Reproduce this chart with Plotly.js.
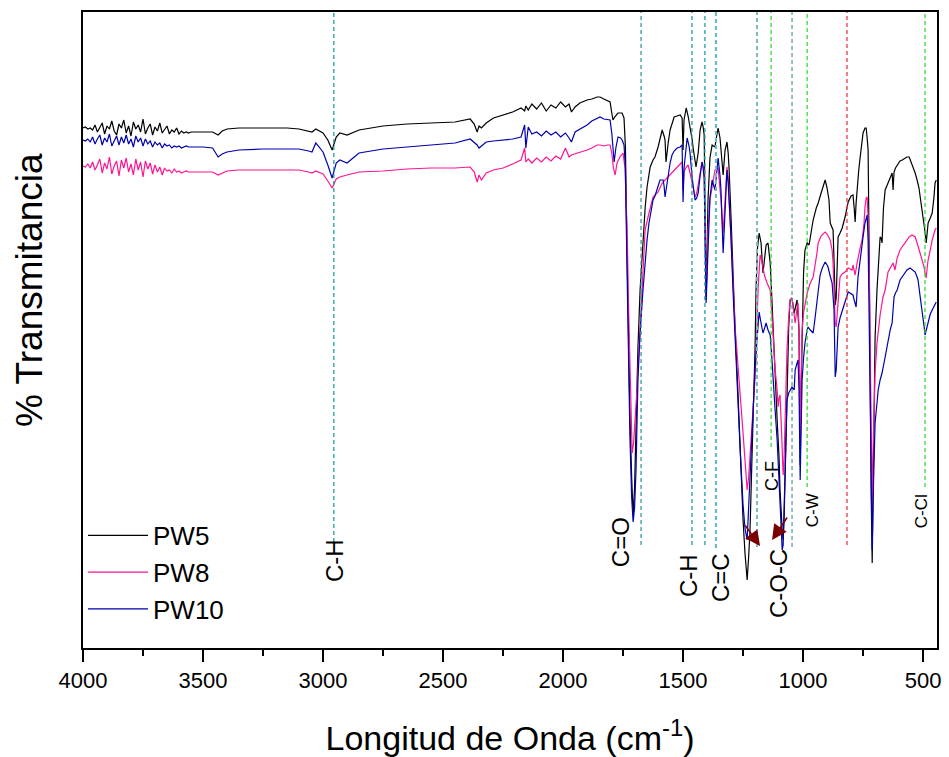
<!DOCTYPE html>
<html>
<head>
<meta charset="utf-8">
<script src="https://cdn.plot.ly/plotly-3.0.1.min.js"></script>
<style>html,body{margin:0;padding:0;background:#fff;}#chart{width:949px;height:757px;}</style>
</head>
<body>
<div id="chart"></div>
<script>
// ---------- DATA (wavenumber in cm-1, transmittance in arbitrary units) ----------
// shared wavenumber grid for the high-wavenumber part (4000 -> 1858 cm-1)
const wnHigh = [4000,3990,3980,3970,3960,3950,3940,3930,3920,3910,3900,3890,3880,3870,3860,3850,3840,3830,3820,3810,3800,3790,3780,3770,3760,3750,3740,3730,3720,3710,3700,3690,3680,3670,3660,3650,3640,3630,3620,3610,3600,3590,3580,3570,3560,
  3550,3500,3460,3437,3420,3400,3350,3250,3150,3100,3060,3046,3030,3000,2980,2962,2945,2930,2900,2850,2750,2650,2550,2450,2387,2370,2358,2350,2340,2320,2290,2250,2210,2175,2160,2155,2145,2130,2110,2090,2070,2050,2030,2010,1990,1975,1965,1950,1930,1900,1880,1858];

const pw5High = [520,521,519,520,518,523,516,521,525,514,522,519,527,517,513,524,520,528,515,522,512,526,519,523,516,529,514,520,524,513,521,517,525,515,519,522,514,518,516,520,514,517,515,516,515,
  516,516,516,513,517,519,520,520,520,519,517,516,519,515,508,498,511,515,513,518,522,524,525,526,529,524,516,522,520,525,530,533,536,540,537,542,538,544,539,545,537,543,540,546,541,544,536,541,545,548,549,551];
const pw8High = [482,481,484,480,486,478,483,489,475,485,479,491,474,482,487,472,488,480,490,476,484,473,489,478,486,471,487,479,485,474,483,476,481,473,480,477,478,475,479,476,477,475,476,477,476,
  476,476,476,473,475,477,478,478,478,478,476,475,477,474,467,460,469,471,473,476,477,479,480,480,481,476,466,473,468,475,478,480,484,488,500,486,489,485,490,486,491,487,492,489,500,491,493,494,496,498,500,503];
const pw10High = [508,507,509,506,511,504,509,513,503,510,506,514,502,508,512,503,511,505,513,504,509,501,512,506,510,502,509,504,507,501,506,503,505,500,504,502,503,500,502,501,502,500,501,502,501,
  501,501,500,491,494,496,498,499,499,499,497,496,505,496,483,470,485,488,485,495,499,501,503,505,509,506,503,500,502,506,507,508,509,511,523,500,521,514,516,512,517,513,516,511,515,510,506,516,519,523,527,530];

// fingerprint region, PW5
const wn5Low = [1846,1830,1815,1804,1797,1792,1785,1771,1760,1754,1746,1740,1737,1728,1721,1714,1708,1702,1696,1688,1679,1667,1658,1650,1637,1625,1617,1604,1596,1587,1579,1575,1571,1567,1562,1554,1546,1537,1525,1512,1504,1500,1496,1487,1479,1471,1462,1458,1446,1437,1429,1421,1417,1412,1404,1396,1388,1379,1367,1360,1354,1346,1342,1333,1325,1317,1312,1308,1300,1292,1283,1272,1262,1250,1242,1233,1227,1221,1214,1208,1200,1196,1190,1183,1175,1167,1160,1154,1146,1137,1130,1125,1117,1108,1100,1096,1087,1083,1079,1075,1067,1060,1054,1046,1037,1030,1025,1017,1012,1008,1004,998,992,983,975,965,958,945,937,921,908,900,892,887,879,875,870,866,862,858,854,846,837,825,812,800,792,787,783,779,775,768,762,755,750,742,737,733,729,724,721,716,712,708,704,700,692,685,679,675,671,665,658,646,637,629,625,621,615,608,596,587,575,567,558,550,542,533,525,517,512,505,500,494,487,483,479,470,462,455,450,445];
const pw5Low = [551,549,547,546,535,528,531,535,535,535,530,500,448,320,228,170,133,160,228,300,358,408,440,461,481,488,491,501,510,518,512,508,486,498,505,518,525,531,532,533,530,498,528,540,532,522,508,500,481,495,518,526,522,513,348,448,490,503,501,512,520,510,498,473,498,506,495,478,430,368,318,260,198,128,95,68,90,118,180,228,300,358,400,415,405,375,392,403,405,385,350,318,270,228,190,158,118,108,130,168,268,320,348,350,335,342,348,318,183,260,318,375,398,405,403,418,428,440,445,458,468,460,448,425,420,418,380,343,350,400,411,415,420,431,446,452,453,440,426,445,461,478,491,505,515,520,520,510,498,380,248,150,85,150,248,310,358,395,411,410,405,440,458,465,470,475,458,476,480,483,487,488,490,491,491,486,481,475,468,460,451,440,431,420,405,418,425,430,435,450,465,468];

// fingerprint region, PW8
const wn8Low = [1846,1830,1815,1804,1797,1790,1783,1775,1763,1750,1742,1733,1727,1721,1716,1712,1706,1700,1692,1679,1671,1658,1646,1633,1625,1604,1587,1567,1546,1525,1504,1500,1496,1487,1479,1471,1458,1450,1443,1433,1421,1412,1404,1396,1388,1379,1367,1354,1346,1342,1333,1325,1317,1312,1308,1300,1292,1283,1272,1262,1250,1242,1233,1227,1221,1214,1208,1200,1196,1187,1179,1173,1167,1160,1150,1137,1130,1125,1117,1108,1104,1100,1096,1091,1087,1083,1079,1075,1067,1060,1054,1046,1040,1033,1025,1021,1017,1012,1008,1004,998,992,983,979,970,958,950,942,937,925,908,900,887,879,875,870,866,862,858,854,846,837,825,812,800,796,792,787,783,775,771,762,754,746,742,737,733,729,724,721,716,712,708,704,700,692,687,679,667,658,646,637,625,617,608,596,587,575,567,558,546,533,521,512,505,496,492,487,483,479,470,462,450,445];
const pw8Low = [503,502,503,503,495,480,473,485,491,495,480,418,340,268,220,195,205,228,258,320,358,418,431,445,451,456,465,470,475,481,486,458,476,481,483,475,458,451,455,470,486,478,348,418,448,461,478,480,462,448,415,455,481,470,448,400,358,320,285,248,215,188,158,170,191,215,241,270,291,361,393,388,380,372,365,358,335,308,280,258,241,250,253,225,188,173,190,228,298,330,348,350,335,325,340,345,320,208,270,318,335,345,355,358,365,371,382,395,405,412,416,414,408,398,385,355,325,321,335,351,371,374,376,380,379,378,383,378,373,385,391,400,408,425,441,450,451,430,370,298,200,141,200,245,275,305,318,333,351,358,376,380,385,378,390,398,401,405,408,411,413,411,402,395,388,381,375,370,380,388,398,408,418,420];

// fingerprint region, PW10
const wn10Low = [1846,1830,1815,1804,1797,1790,1787,1780,1771,1760,1754,1746,1740,1737,1728,1721,1714,1708,1702,1696,1688,1679,1667,1658,1650,1642,1633,1625,1617,1608,1596,1583,1579,1575,1571,1562,1554,1546,1537,1525,1512,1504,1500,1496,1492,1483,1475,1471,1462,1450,1443,1437,1429,1421,1417,1412,1404,1396,1388,1379,1367,1360,1354,1346,1342,1333,1325,1317,1312,1308,1300,1292,1283,1272,1262,1250,1242,1233,1227,1221,1214,1208,1200,1192,1183,1175,1167,1160,1154,1146,1137,1130,1125,1117,1108,1104,1096,1087,1083,1079,1075,1067,1060,1054,1046,1037,1033,1025,1021,1017,1012,1008,1004,998,992,983,979,970,958,950,942,929,920,908,900,896,887,879,871,866,862,858,854,846,833,820,812,800,792,787,779,771,762,750,742,733,729,724,721,716,712,708,704,700,692,687,679,671,658,646,637,629,625,621,615,608,596,587,575,567,554,542,533,525,521,512,505,500,496,492,487,479,470,462,450,445];
const pw10Low = [531,529,528,528,515,492,486,500,511,510,508,503,480,428,300,208,150,126,140,178,268,315,358,390,408,425,438,448,452,458,468,468,462,451,458,475,485,493,497,500,501,503,446,480,491,510,502,495,470,448,450,455,472,486,481,470,345,408,450,468,458,475,490,472,458,395,445,478,465,448,410,358,308,255,198,143,120,108,140,181,220,248,280,308,336,325,315,320,325,318,313,290,268,240,208,185,140,98,103,140,178,248,255,258,261,258,278,285,288,260,168,220,268,290,305,318,321,318,315,330,348,373,380,386,383,381,372,365,338,271,278,310,321,330,341,350,356,354,353,348,341,371,391,411,425,433,408,320,228,150,98,150,198,225,245,258,268,275,291,308,318,325,338,351,355,358,368,371,375,378,380,378,376,371,368,351,340,331,322,313,318,328,334,338,344,346];

// band assignment markers
const bandPos    = [2955, 1675, 1463, 1409, 1363, 1192, 1133, 1046, 983, 817, 492];
const bandEnd    = [106, 103, 103, 103, 100, 101, 201, 101, 161, 103, 161];
const bandColor  = ['#1f9e9e','#3a9a9a','#1f9e9e','#1f9e9e','#6fbcbc','#7fbaba','#33dd33','#5aa0a0','#33dd33','#ee3b3b','#33dd33'];
const bandWidth  = [1.3,1.3,1.3,1.3,2.2,2,1.3,1.3,1.3,1.3,1.3];

const labelText = ['C-H','C=O','C-H','C=C','C-O-C','C-F','C-W','C-Cl'];
const labelX    = [2954, 1762, 1479, 1346, 1104, 1129, 962, 508];
const labelY    = [87, 106, 72, 70, 64, 172, 138, 137];
const labelSize = [24, 24, 24, 24, 24, 18, 17, 17];

const arrowTipX = [1179, 1129];
const arrowTipY = [102, 108];
const arrowDX   = [-16, 16];
const arrowDY   = [-22, -24];

const xTicks = [4000, 3500, 3000, 2500, 2000, 1500, 1000, 500];

// ---------- BUILD ----------
const FONT = 'Arial, "Liberation Sans", sans-serif';
const traces = [
  {name:'PW5',  x: wnHigh.concat(wn5Low),  y: pw5High.concat(pw5Low),  color:'#000000'},
  {name:'PW8',  x: wnHigh.concat(wn8Low),  y: pw8High.concat(pw8Low),  color:'#ff1493'},
  {name:'PW10', x: wnHigh.concat(wn10Low), y: pw10High.concat(pw10Low), color:'#0000b0'}
].map(s => ({type:'scatter', mode:'lines', name:s.name, x:s.x, y:s.y,
             line:{color:s.color, width:1.2}, hoverinfo:'skip'}));

const shapes = bandPos.map((p,i) => ({type:'line', xref:'x', yref:'y', x0:p, x1:p,
  y0: bandEnd[i], y1: 636, line:{color:bandColor[i], width:bandWidth[i], dash:'4px,3px'}}));

const annotations = labelText.map((t,i) => ({x:labelX[i], y:labelY[i], xref:'x', yref:'y',
  text:t, showarrow:false, textangle:-90, font:{family:FONT, size:labelSize[i], color:'#000'}}));
arrowTipX.forEach((x,i) => annotations.push({x:x, y:arrowTipY[i], xref:'x', yref:'y', text:'',
  showarrow:true, arrowhead:2, arrowsize:2, arrowwidth:1.5, arrowcolor:'#7a0000',
  ax:arrowDX[i], ay:arrowDY[i], standoff:0}));
// y-axis title (placed as in the reference, slightly above the plot centre)
annotations.push({xref:'paper', yref:'paper', x:-0.062, y:0.563, xanchor:'center', yanchor:'middle',
  text:'% Transmitancia', showarrow:false, textangle:-90, font:{family:FONT, size:37, color:'#000'}});

const layout = {
  width:949, height:757,
  margin:{l:83, r:12, t:12, b:109},
  paper_bgcolor:'#fff', plot_bgcolor:'#fff',
  showlegend:true,
  legend:{x:0.0, y:0.214, xanchor:'left', yanchor:'top', bgcolor:'rgba(0,0,0,0)',
          font:{family:FONT, size:26, color:'#000'}, itemwidth:60, tracegroupgap:0},
  xaxis:{range:[4000, 442], tickvals:xTicks, ticks:'outside', ticklen:12, tickwidth:2,
         tickcolor:'#000', showline:true, linewidth:2, linecolor:'#000', mirror:true,
         showgrid:false, zeroline:false,
         minor:{dtick:250, tick0:0, ticks:'outside', ticklen:6, tickwidth:2, tickcolor:'#000', showgrid:false},
         tickfont:{family:FONT, size:22, color:'#000'},
         title:{text:'Longitud de Onda (cm<sup>-1</sup>)', font:{family:FONT, size:34, color:'#000'}, standoff:34}},
  yaxis:{range:[0, 636], showticklabels:false, ticks:'', showline:true, linewidth:2,
         linecolor:'#000', mirror:true, showgrid:false, zeroline:false},
  shapes:shapes,
  annotations:annotations
};

Plotly.newPlot('chart', traces, layout, {displayModeBar:false, staticPlot:true});
</script>
</body>
</html>
